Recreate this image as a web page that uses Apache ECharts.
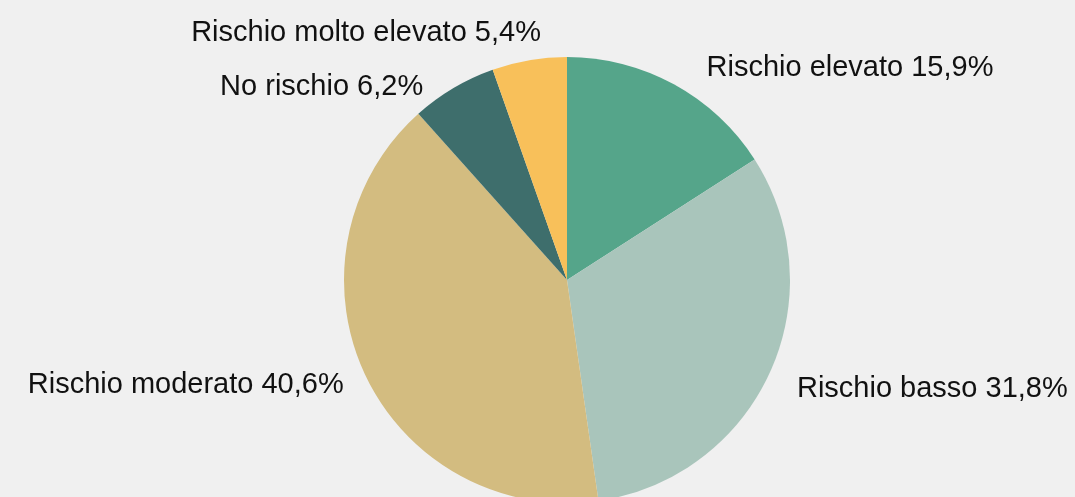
<!DOCTYPE html>
<html>
<head>
<meta charset="utf-8">
<script src="https://cdn.jsdelivr.net/npm/echarts@6/dist/echarts.min.js"></script>
<style>
  html, body { margin: 0; padding: 0; background: #f0f0f0; }
  #show { width: 1075px; height: 497px; }
</style>
</head>
<body>
<div id="show"></div>
<script>
    // categorie e valori (%), in senso orario dall'alto
    var categorie = ['Rischio elevato', 'Rischio basso', 'Rischio moderato', 'No rischio', 'Rischio molto elevato'];
    var valori = [15.9, 31.8, 40.6, 6.2, 5.4];
    var colori = ['#55a58a', '#a9c5bb', '#d3bc80', '#3e6e6c', '#f8c05a'];

    // spostamento etichette rispetto alla posizione di default
    var spostaX = [3, -11, 17, 0, 35];
    var spostaY = [1, 8, 2, 16, -7];

    var myChart = echarts.init(document.getElementById('show'));

    var data = [];
    for (var i = 0; i < categorie.length; i++) {
        data.push({ value: valori[i], name: categorie[i], itemStyle: { color: colori[i] } });
    }

    var option = {
        backgroundColor: '#f0f0f0',
        animation: false,
        series: [{
            type: 'pie',
            center: [567, 280],
            radius: 223,
            startAngle: 90,
            clockwise: true,
            avoidLabelOverlap: false,
            label: {
                show: true,
                position: 'outside',
                color: '#111',
                fontSize: 29,
                fontFamily: '"Liberation Sans", Arial, Helvetica, sans-serif',
                formatter: function (p) {
                    return p.name + ' ' + p.value.toFixed(1).replace('.', ',') + '%';
                }
            },
            labelLine: { show: false, length: 20, length2: 15 },
            labelLayout: function (p) {
                return { dx: spostaX[p.dataIndex], dy: spostaY[p.dataIndex] };
            },
            data: data
        }]
    };
    myChart.setOption(option);
</script>
</body>
</html>
